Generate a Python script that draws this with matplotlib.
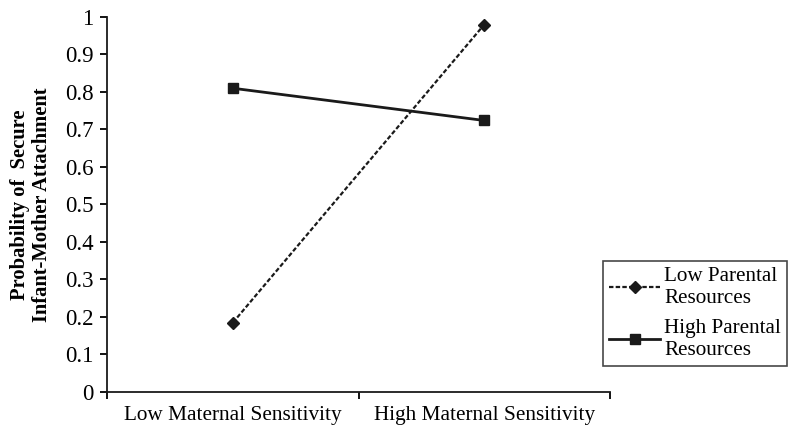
import matplotlib
matplotlib.use('Agg')
import matplotlib.pyplot as plt
from matplotlib.ticker import FixedLocator, NullFormatter

plt.rcParams['font.family'] = ['Liberation Serif', 'DejaVu Serif']

# data
categories = ["Low Maternal Sensitivity", "High Maternal Sensitivity"]
low_resources = [0.185, 0.98]
high_resources = [0.81, 0.724]
series_names = ["Low Parental\nResources", "High Parental\nResources"]
y_ticks = [0, 0.1, 0.2, 0.3, 0.4, 0.5, 0.6, 0.7, 0.8, 0.9, 1]
y_tick_labels = ["0", "0.1", "0.2", "0.3", "0.4", "0.5", "0.6", "0.7", "0.8", "0.9", "1"]

fig = plt.figure(figsize=(8, 4.36), dpi=100)
ax = fig.add_axes([0.134, 0.101, 0.6285, 0.86])

xpos = [0.5, 1.5]
ax.plot(xpos, low_resources, color='#1a1a1a', linestyle=(0, (2, 1)), lw=1.6,
        marker='D', markersize=6, label=series_names[0])
ax.plot(xpos, high_resources, color='#1a1a1a', linestyle='-', lw=2,
        marker='s', markersize=7.5, label=series_names[1])

ax.set_xlim(0, 2)
ax.set_ylim(0, 1)
ax.set_yticks(y_ticks)
ax.set_yticklabels(y_tick_labels)
ax.set_xticks(xpos)
ax.set_xticklabels(categories)
ax.xaxis.set_minor_locator(FixedLocator([0, 1, 2]))
ax.xaxis.set_minor_formatter(NullFormatter())
ax.tick_params(axis='x', which='major', length=0, pad=10, labelsize=15.3)
ax.tick_params(axis='x', which='minor', length=5, width=1.3, direction='out')
ax.tick_params(axis='y', length=5, width=1.3, direction='out', labelsize=16.5, pad=5)

for s in ['top', 'right']:
    ax.spines[s].set_visible(False)
for s in ['left', 'bottom']:
    ax.spines[s].set_linewidth(1.3)
    ax.spines[s].set_color('#1a1a1a')

ax.set_ylabel("Probability of  Secure\nInfant-Mother Attachment", fontsize=14.8,
              fontweight='bold', labelpad=9, linespacing=1.15)

leg = ax.legend(loc='upper left', bbox_to_anchor=(0.986, 0.349), frameon=True,
                fancybox=False, edgecolor='#1a1a1a', fontsize=15.2, handlelength=2.4,
                handletextpad=0.2, borderpad=0.3, labelspacing=0.5, borderaxespad=0)
leg.get_frame().set_linewidth(1.2)

fig.savefig('out.png', dpi=100)
